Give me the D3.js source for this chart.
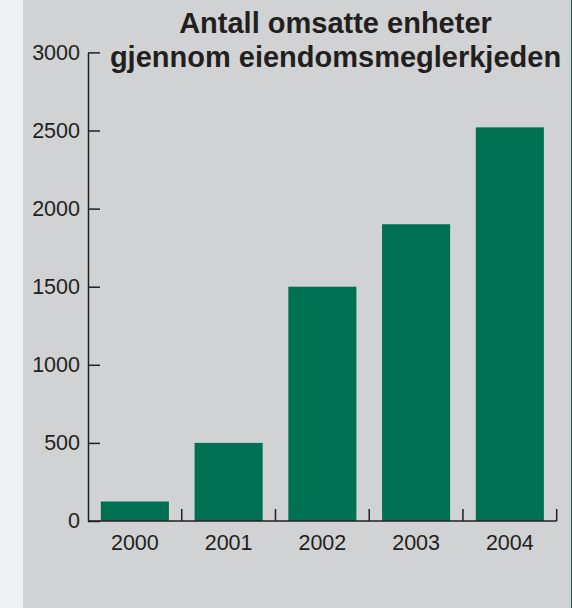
<!DOCTYPE html>
<html>
<head>
<meta charset="utf-8">
<script src="https://cdn.jsdelivr.net/npm/d3@7"></script>
<style>
  html, body { margin: 0; padding: 0; background: #eef0f2; }
  svg { display: block; }
</style>
</head>
<body>
<svg id="chart" width="572" height="608"></svg>
<script>
const categories = ["2000", "2001", "2002", "2003", "2004"];
const values = [125, 500, 1500, 1900, 2520];
const yTicks = [0, 500, 1000, 1500, 2000, 2500, 3000];
const titleLines = ["Antall omsatte enheter", "gjennom eiendomsmeglerkjeden"];

const W = 572, H = 608;
const svg = d3.select("#chart");
const ink = "#231f20";
const font = "'Liberation Sans', Arial, Helvetica, sans-serif";

// backgrounds
svg.append("rect").attr("x", 0).attr("y", 0).attr("width", W).attr("height", H).attr("fill", "#eef0f2");
svg.append("rect").attr("x", 23).attr("y", 0).attr("width", W - 23).attr("height", H).attr("fill", "#d1d2d4");
svg.append("rect").attr("x", 571).attr("y", 0).attr("width", 1).attr("height", H).attr("fill", "#0a6e50");

const mLeft = 88, mRight = 556.7, mTop = 52.4, mBottom = 521;

const x = d3.scaleBand().domain(categories).range([mLeft, mRight])
  .paddingInner(0.274).paddingOuter(0.137);
const y = d3.scaleLinear().domain([0, 3000]).range([mBottom, mTop]);

// bars
svg.append("g").selectAll("rect").data(categories).join("rect")
  .attr("x", d => x(d))
  .attr("width", x.bandwidth())
  .attr("y", (d, i) => y(values[i]))
  .attr("height", (d, i) => y(0) - y(values[i]))
  .attr("fill", "#007052");

// y axis
const yAxis = d3.axisLeft(y).tickValues(yTicks).tickSizeInner(-12).tickSizeOuter(0).tickPadding(8)
  .tickFormat(d3.format("d"));
const gy = svg.append("g").attr("transform", `translate(${mLeft},0)`).call(yAxis);
gy.select(".domain").attr("stroke", ink).attr("stroke-width", 1.5);
gy.selectAll(".tick line").attr("stroke", ink).attr("stroke-width", 1.5);
gy.selectAll(".tick text").attr("fill", ink).attr("font-family", font).attr("font-size", "21.5px");

// x axis line
const step = x.step();
svg.append("line").attr("x1", mLeft).attr("x2", mRight).attr("y1", mBottom).attr("y2", mBottom)
  .attr("stroke", ink).attr("stroke-width", 1.5);
// boundary ticks (after each band)
svg.append("g").selectAll("line").data(categories).join("line")
  .attr("x1", d => x(d) + x.bandwidth() + step * x.paddingInner() / 2)
  .attr("x2", d => x(d) + x.bandwidth() + step * x.paddingInner() / 2)
  .attr("y1", mBottom).attr("y2", mBottom - 12)
  .attr("stroke", ink).attr("stroke-width", 1.5);
// x labels
const xAxis = d3.axisBottom(x).tickSize(0).tickPadding(14);
const gx = svg.append("g").attr("transform", `translate(0,${mBottom})`).call(xAxis);
gx.select(".domain").remove();
gx.selectAll(".tick text").attr("fill", ink).attr("font-family", font).attr("font-size", "21.5px");

// title
svg.append("g").selectAll("text").data(titleLines).join("text")
  .attr("x", 335.5)
  .attr("y", (d, i) => 33 + i * 34)
  .attr("text-anchor", "middle")
  .attr("font-family", font)
  .attr("font-weight", "bold")
  .attr("font-size", "29px")
  .attr("fill", ink)
  .text(d => d);
</script>
</body>
</html>
